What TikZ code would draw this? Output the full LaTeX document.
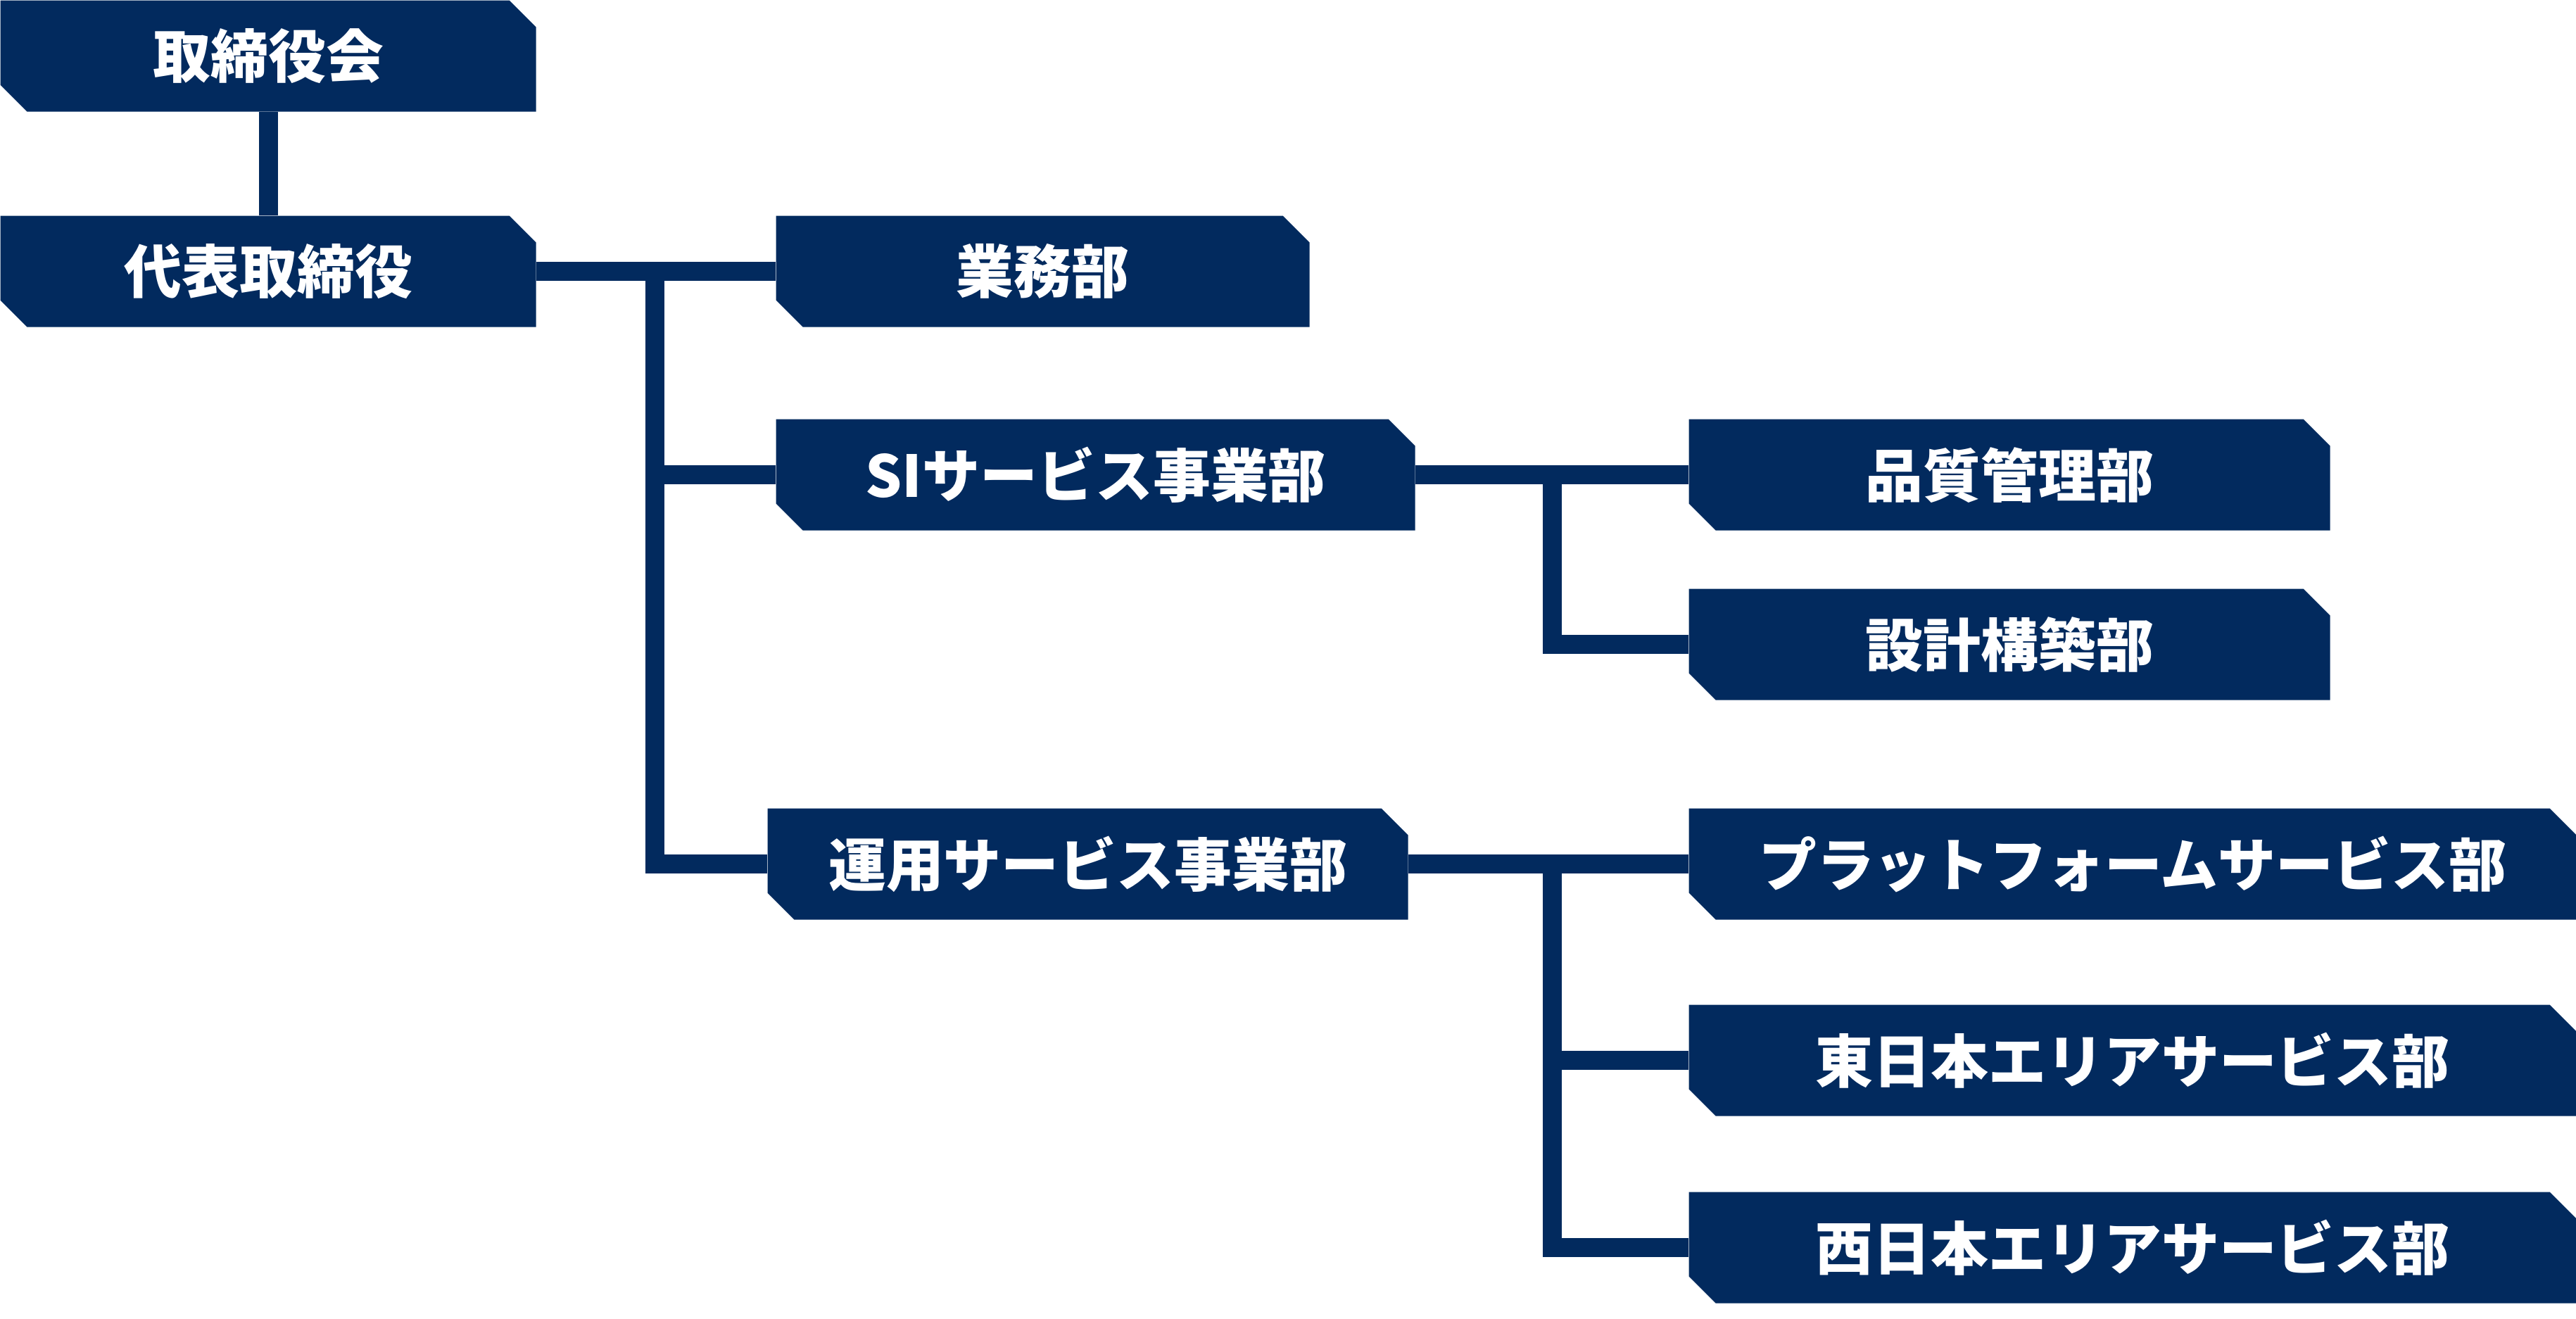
\documentclass[tikz,border=0pt]{standalone}
\usepackage{fontspec}
\usepackage{tikz}
\newfontfamily\jpfont{Noto Sans CJK JP}
\definecolor{corpnavy}{HTML}{022A5E}
\usetikzlibrary{positioning}

\begin{document}
\begin{tikzpicture}[
    unit/.style={fill=white, text=white, font={\jpfont\bfseries\fontsize{23.3}{28}\selectfont},
      inner sep=0pt, minimum height=1.58cm, anchor=north west,
      path picture={
        \fill[corpnavy] (path picture bounding box.north west)
          -- ([xshift=-0.38cm]path picture bounding box.north east)
          -- ([yshift=-0.38cm]path picture bounding box.north east)
          -- (path picture bounding box.south east)
          -- ([xshift=0.38cm]path picture bounding box.south west)
          -- ([yshift=0.38cm]path picture bounding box.south west) -- cycle;
      }},
    link/.style={draw=corpnavy, line width=0.27cm}
    ]
  \useasboundingbox (0,0) rectangle (36.6,-18.73);

  \node [unit, minimum width=7.61cm] (board) at (0,0) {取締役会};
  \node [unit, minimum width=7.61cm] (ceo) at (0,-3.06) {代表取締役};

  \node [unit, minimum width=7.58cm] (gyomu) at (11.02,-3.06) {業務部};
  \node [unit, minimum width=9.08cm] (si) at (11.02,-5.95) {SIサービス事業部};
  \node [unit, minimum width=9.10cm] (unyo) at (10.90,-11.48) {運用サービス事業部};

  \node [unit, minimum width=9.11cm] (hinshitsu) at (23.99,-5.95) {品質管理部};
  \node [unit, minimum width=9.11cm] (sekkei) at (23.99,-8.36) {設計構築部};
  \node [unit, minimum width=12.61cm] (platform) at (23.99,-11.48) {プラットフォームサービス部};
  \node [unit, minimum width=12.61cm] (east) at (23.99,-14.27) {東日本エリアサービス部};
  \node [unit, minimum width=12.61cm] (west) at (23.99,-16.93) {西日本エリアサービス部};

  \coordinate (trunk) at (9.30,0);
  \coordinate (sitrunk) at (22.05,0);
  \coordinate (optrunk) at (22.05,0);

  \draw [link] (board.south) -- (ceo.north);
  \draw [link] (ceo.east) -- (gyomu.west);
  \draw [link] (ceo.east -| trunk) |- (si.west);
  \draw [link] (ceo.east -| trunk) |- (unyo.west);

  \draw [link] (si.east) -- (hinshitsu.west);
  \draw [link] (si.east -| sitrunk) |- (sekkei.west);

  \draw [link] (unyo.east) -- (platform.west);
  \draw [link] (unyo.east -| optrunk) |- (east.west);
  \draw [link] (unyo.east -| optrunk) |- (west.west);
\end{tikzpicture}
\end{document}
